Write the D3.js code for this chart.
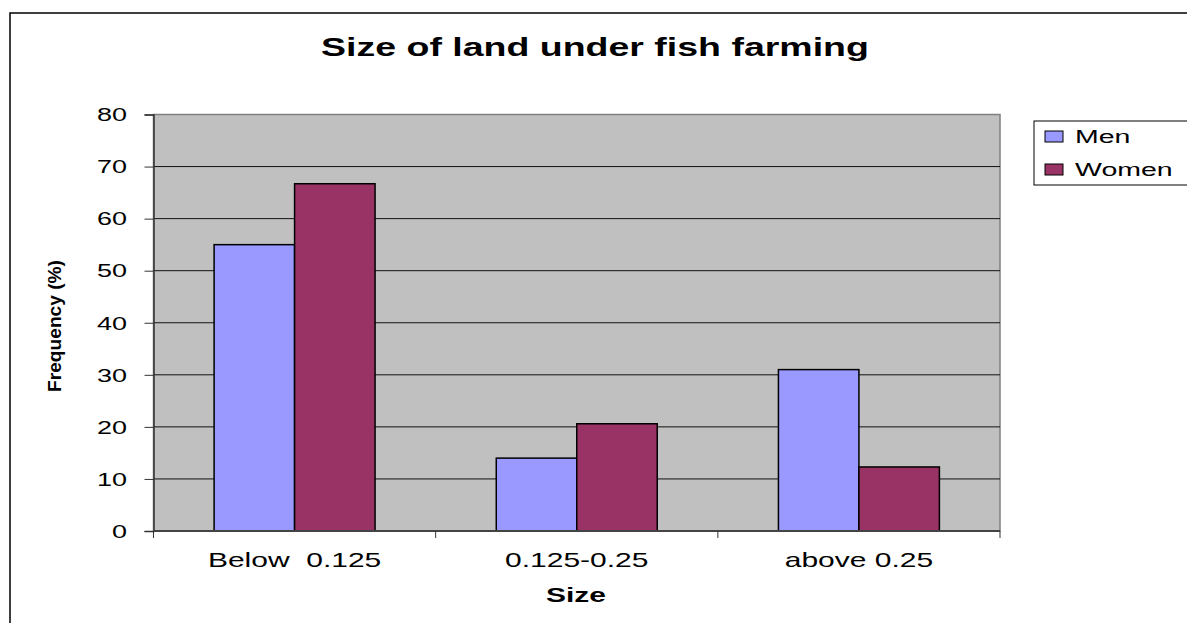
<!DOCTYPE html>
<html>
<head>
<meta charset="utf-8">
<script src="https://cdn.jsdelivr.net/npm/d3@7"></script>
<style>
  body { margin: 0; background: #fff; }
  svg { display: block; font-family: Arial, "Liberation Sans", sans-serif; }
</style>
</head>
<body>
<div id="chart"></div>
<script>
const categories = ['Below  0.125', '0.125-0.25', 'above 0.25'];
const seriesNames = ['Men', 'Women'];
const menValues = [55, 14, 31];
const womenValues = [66.7, 20.6, 12.3];
const yTicks = [0, 10, 20, 30, 40, 50, 60, 70, 80];
const colors = { Men: '#9999ff', Women: '#993366' };

const W = 1187, H = 623;
const margin = { top: 114.5, right: 187, bottom: 92, left: 153.5 };
const innerW = W - margin.left - margin.right;
const innerH = H - margin.top - margin.bottom;
// the original picture is stretched sideways, so text is too
const SX = 1.5;

const svg = d3.select('#chart')
    .append('svg')
    .attr('width', W)
    .attr('height', H);

function wideText(parent, x, y, txt, size, opts = {}) {
    return parent.append('text')
        .attr('transform', `translate(${x},${y}) scale(${SX},1)`)
        .attr('text-anchor', opts.anchor || 'middle')
        .attr('font-size', size)
        .attr('font-weight', opts.bold ? 'bold' : 'normal')
        .style('white-space', 'pre')
        .text(txt);
}

// outer chart frame
svg.append('rect')
    .attr('x', 10).attr('y', 13)
    .attr('width', W + 20).attr('height', H + 20)
    .attr('fill', '#fff')
    .attr('stroke', '#000')
    .attr('stroke-width', 1.5);

wideText(svg, 595, 56, 'Size of land under fish farming', 25, { bold: true });

const g = svg.append('g')
    .attr('transform', `translate(${margin.left},${margin.top})`);

const x0 = d3.scaleBand()
    .domain(categories)
    .range([0, innerW]);

const x1 = d3.scaleBand()
    .domain(seriesNames)
    .range([0, x0.bandwidth()])
    .paddingOuter(0.753);

const y = d3.scaleLinear()
    .domain([0, 80])
    .range([innerH, 0]);

// plot background
g.append('rect')
    .attr('width', innerW)
    .attr('height', innerH)
    .attr('fill', '#c0c0c0')
    .attr('stroke', '#808080')
    .attr('stroke-width', 1.5);

// gridlines
g.append('g')
    .selectAll('line')
    .data(yTicks.filter(d => d > 0 && d < 80))
    .join('line')
    .attr('x1', 0)
    .attr('x2', innerW)
    .attr('y1', d => y(d))
    .attr('y2', d => y(d))
    .attr('stroke', '#111')
    .attr('stroke-width', 1);

// bars
const data = categories.map((c, i) => ({ cat: c, Men: menValues[i], Women: womenValues[i] }));

g.append('g')
    .selectAll('g')
    .data(data)
    .join('g')
    .attr('transform', d => `translate(${x0(d.cat)},0)`)
    .selectAll('rect')
    .data(d => seriesNames.map(s => ({ key: s, value: d[s] })))
    .join('rect')
    .attr('x', d => x1(d.key))
    .attr('y', d => y(d.value))
    .attr('width', x1.bandwidth())
    .attr('height', d => innerH - y(d.value))
    .attr('fill', d => colors[d.key])
    .attr('stroke', '#000')
    .attr('stroke-width', 1.5);

// y axis
const yAxis = d3.axisLeft(y)
    .tickValues(yTicks)
    .tickSize(9);

g.append('g')
    .attr('class', 'y-axis')
    .call(yAxis)
    .call(s => s.select('.domain').attr('stroke', '#333').attr('stroke-width', 1.5))
    .call(s => s.selectAll('.tick line').attr('stroke', '#333'))
    .call(s => s.selectAll('.tick text')
        .attr('x', -26.5 / SX)
        .attr('transform', `scale(${SX},1)`)
        .attr('font-size', 18)
        .attr('font-family', 'Arial, "Liberation Sans", sans-serif')
        .attr('fill', '#000')
        .attr('dy', '0.35em'));

// x axis: ticks at category boundaries
const xAxisG = g.append('g')
    .attr('transform', `translate(0,${innerH})`);

xAxisG.append('line')
    .attr('x1', 0).attr('x2', innerW)
    .attr('stroke', '#444')
    .attr('stroke-width', 2);

xAxisG.selectAll('.bound')
    .data(categories.concat(['end']))
    .join('line')
    .attr('class', 'bound')
    .attr('x1', (d, i) => i * x0.step())
    .attr('x2', (d, i) => i * x0.step())
    .attr('y1', 0)
    .attr('y2', 7)
    .attr('stroke', '#333');

categories.forEach(c => {
    wideText(xAxisG, x0(c) + x0.bandwidth() / 2, 36, c, 20);
});

// axis titles
wideText(svg, 576, 602, 'Size', 20, { bold: true });

svg.append('text')
    .attr('transform', 'translate(61,326) scale(1.2,1) rotate(-90)')
    .attr('text-anchor', 'middle')
    .attr('font-size', 15)
    .attr('font-weight', 'bold')
    .attr('textLength', 132)
    .attr('lengthAdjust', 'spacingAndGlyphs')
    .text('Frequency (%)');

// legend
const legend = svg.append('g')
    .attr('transform', 'translate(1034,121)');

legend.append('rect')
    .attr('width', 170)
    .attr('height', 64)
    .attr('fill', '#fff')
    .attr('stroke', '#000')
    .attr('stroke-width', 1);

seriesNames.forEach((s, i) => {
    const item = legend.append('g')
        .attr('transform', `translate(11,${10 + i * 33})`);
    item.append('rect')
        .attr('width', 18)
        .attr('height', 11)
        .attr('fill', colors[s])
        .attr('stroke', '#000')
        .attr('stroke-width', 1);
    wideText(item, 30, 12, s, 19, { anchor: 'start' });
});
</script>
</body>
</html>
